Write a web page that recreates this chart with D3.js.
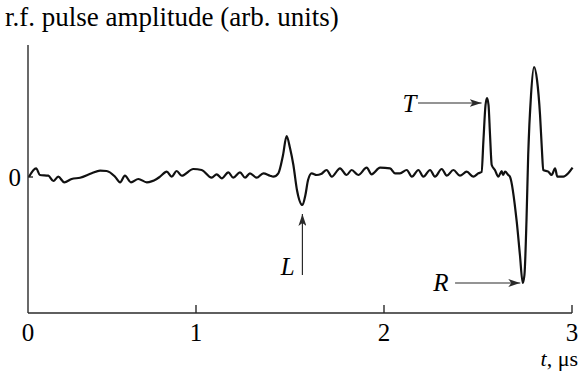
<!DOCTYPE html>
<html>
<head>
<meta charset="utf-8">
<script src="https://cdn.jsdelivr.net/npm/d3@7/dist/d3.min.js"></script>
<style>
  html, body { margin: 0; padding: 0; background: #fff; }
  svg { display: block; font-family: "Liberation Serif", "Times New Roman", serif; }
</style>
</head>
<body>
<svg id="chart" width="584" height="371"></svg>
<script>
// Time axis (μs) and tick labels
const timeTicks = [0, 1, 2, 3];
const timeTickLabels = ["0", "1", "2", "3"];
const ampTicks = [0];
const ampTickLabels = ["0"];

// Recorded r.f. pulse: time (μs) and amplitude (arb. units)
const time = [
  0.006, 0.048, 0.071, 0.121, 0.151, 0.180, 0.216, 0.260, 0.310, 0.379,
  0.429, 0.468, 0.518, 0.548, 0.577, 0.613, 0.657, 0.707, 0.766, 0.786,
  0.826, 0.855, 0.885, 0.915, 0.984, 1.030, 1.083, 1.110, 1.137, 1.172,
  1.198, 1.234, 1.261, 1.287, 1.323, 1.358, 1.394, 1.411, 1.438, 1.463,
  1.482, 1.500, 1.518, 1.537, 1.566, 1.582, 1.596, 1.615, 1.642, 1.665,
  1.695, 1.722, 1.766, 1.801, 1.828, 1.863, 1.908, 1.934, 1.979, 2.032,
  2.059, 2.085, 2.121, 2.148, 2.183, 2.209, 2.245, 2.271, 2.307, 2.334,
  2.369, 2.404, 2.440, 2.475, 2.502, 2.519, 2.529, 2.540, 2.548, 2.556,
  2.564, 2.573, 2.590, 2.608, 2.626, 2.633, 2.644, 2.661, 2.670, 2.706,
  2.723, 2.738, 2.747, 2.758, 2.767, 2.782, 2.798, 2.814, 2.830, 2.840,
  2.847, 2.874, 2.892, 2.910, 2.922, 2.954, 2.980, 3.003
];
const amplitude = [
  0.003, 0.087, 0.020, 0.013, -0.040, 0.003, -0.053, -0.020, -0.007, 0.037,
  0.063, 0.060, 0.003, -0.053, 0.013, -0.053, -0.020, -0.053, -0.020, 0.003,
  0.053, 0.003, 0.060, 0.013, 0.080, 0.070, -0.007, 0.027, -0.013, 0.047,
  -0.007, 0.047, -0.007, 0.037, -0.007, 0.037, 0.013, 0.003, 0.037, 0.220,
  0.410, 0.290, 0.120, -0.130, -0.280, -0.180, -0.030, 0.037, 0.020, 0.030,
  0.070, 0.003, 0.087, 0.020, 0.070, 0.020, 0.093, 0.027, 0.093, 0.087,
  0.037, 0.037, 0.070, 0.003, 0.070, 0.003, 0.070, 0.003, 0.080, 0.013,
  0.070, 0.013, 0.053, 0.003, 0.037, 0.050, 0.370, 0.720, 0.790, 0.720,
  0.420, 0.120, 0.070, 0.003, 0.060, 0.020, 0.053, 0.020, 0.003, -0.447,
  -0.780, -1.060, -0.980, -0.430, 0.220, 0.820, 1.100, 0.970, 0.620, 0.270,
  0.070, 0.053, 0.020, 0.087, 0.003, 0.003, 0.037, 0.093
];

// Labelled features: L, T, R pulses
const markerNames = ["L", "T", "R"];

const svg = d3.select("#chart");
const ink = "#000";
const axisInk = "#2a2a2a";
const fs = 25;

// Piecewise time scale (the printed axis is not perfectly uniform)
const x = d3.scaleLinear().domain([0, 1, 2, 3]).range([28, 196, 384, 572]);
const y = d3.scaleLinear().domain([-1.36, 1.32]).range([313, 45]);

// Title
svg.append("text")
  .attr("x", 5).attr("y", 26)
  .attr("font-size", 27)
  .attr("fill", ink)
  .text("r.f. pulse amplitude (arb. units)");

// Axes lines
svg.append("line")
  .attr("x1", x(0)).attr("x2", x(0))
  .attr("y1", y.range()[1]).attr("y2", y.range()[0])
  .attr("stroke", axisInk).attr("stroke-width", 1.4);
svg.append("line")
  .attr("x1", x(0)).attr("x2", x(3))
  .attr("y1", y.range()[0]).attr("y2", y.range()[0])
  .attr("stroke", axisInk).attr("stroke-width", 1.4);

// Time ticks (inward) and labels
const xt = svg.append("g");
timeTicks.forEach((t, i) => {
  if (t > 0) {
    xt.append("line")
      .attr("x1", x(t)).attr("x2", x(t))
      .attr("y1", y.range()[0]).attr("y2", y.range()[0] - 8)
      .attr("stroke", axisInk).attr("stroke-width", 1.4);
  }
  xt.append("text")
    .attr("x", x(t)).attr("y", 341)
    .attr("text-anchor", "middle")
    .attr("font-size", fs)
    .attr("fill", ink)
    .text(timeTickLabels[i]);
});

// Axis unit label
const unit = svg.append("text")
  .attr("x", 578).attr("y", 366)
  .attr("text-anchor", "end")
  .attr("font-size", 22)
  .attr("fill", ink);
unit.append("tspan").attr("font-style", "italic").text("t");
unit.append("tspan").text(", μs");

// Amplitude tick and label
ampTicks.forEach((a, i) => {
  svg.append("line")
    .attr("x1", x(0)).attr("x2", x(0) + 5)
    .attr("y1", y(a)).attr("y2", y(a))
    .attr("stroke", axisInk).attr("stroke-width", 1.4);
  svg.append("text")
    .attr("x", 21).attr("y", y(a) + 9)
    .attr("text-anchor", "end")
    .attr("font-size", fs)
    .attr("fill", ink)
    .text(ampTickLabels[i]);
});

// Pulse trace
const pts = time.map((t, i) => [t, amplitude[i]]);
const line = d3.line()
  .x(d => x(d[0]))
  .y(d => y(d[1]))
  .curve(d3.curveMonotoneX);
svg.append("path")
  .datum(pts)
  .attr("d", line)
  .attr("fill", "none")
  .attr("stroke", "#111")
  .attr("stroke-width", 2.2)
  .attr("stroke-linejoin", "round");

// Arrowhead marker
svg.append("defs").append("marker")
  .attr("id", "head")
  .attr("viewBox", "0 0 12 8")
  .attr("refX", 12).attr("refY", 4)
  .attr("markerWidth", 12).attr("markerHeight", 8)
  .attr("markerUnits", "userSpaceOnUse")
  .attr("orient", "auto")
  .append("path")
  .attr("d", "M0,0 L12,4 L0,8 L3,4 Z")
  .attr("fill", axisInk);

function arrow(x1, y1, x2, y2) {
  svg.append("line")
    .attr("x1", x1).attr("y1", y1).attr("x2", x2).attr("y2", y2)
    .attr("stroke", axisInk).attr("stroke-width", 1.2)
    .attr("marker-end", "url(#head)");
}
function tag(name, px, py) {
  svg.append("text")
    .attr("x", px).attr("y", py)
    .attr("text-anchor", "middle")
    .attr("font-size", fs)
    .attr("font-style", "italic")
    .attr("fill", ink)
    .text(name);
}

// L: arrow pointing up at the first reflection minimum
arrow(x(1.566), y(-0.98), x(1.566), y(-0.37));
tag(markerNames[0], x(1.488), y(-0.98));
// T: arrow pointing right at the transmitted pulse peak
arrow(x(2.181), y(0.74), x(2.519), y(0.74));
tag(markerNames[1], x(2.135), y(0.655));
// R: arrow pointing right at the main reflection minimum
arrow(x(2.378), y(-1.06), x(2.725), y(-1.06));
tag(markerNames[2], x(2.303), y(-1.14));
</script>
</body>
</html>
